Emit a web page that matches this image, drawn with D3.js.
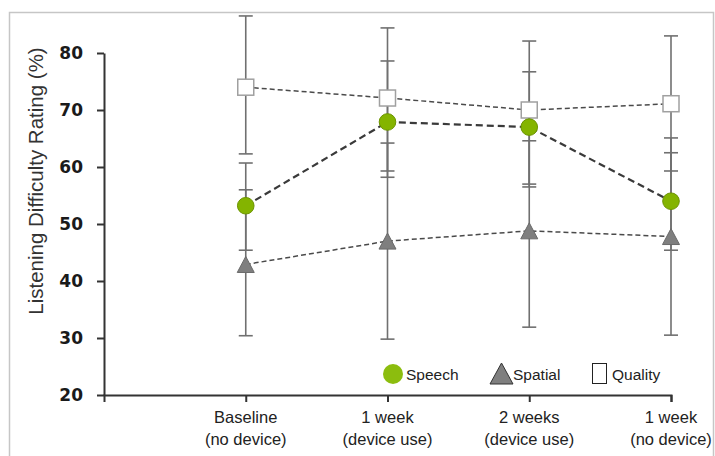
<!DOCTYPE html>
<html>
<head>
<meta charset="utf-8">
<script src="https://cdn.jsdelivr.net/npm/d3@7"></script>
<style>
  html, body { margin: 0; padding: 0; background: #fff; }
  svg { display: block; }
</style>
</head>
<body>
<svg id="chart" width="715" height="456"></svg>
<script>
// Test sessions along the x axis (two-line labels)
const sessions = [["Baseline", "(no device)"], ["1 week", "(device use)"], ["2 weeks", "(device use)"], ["1 week", "(no device)"]];
const yTicks = [20, 30, 40, 50, 60, 70, 80];

// Mean listening difficulty ratings (%) and error bar ends
const speech      = [53.2, 67.9, 67.0, 54.0];
const speechHigh  = [60.7, 78.6, 76.7, 62.5];
const speechLow   = [45.4, 58.2, 56.5, 45.4];

const spatial     = [42.9, 47.0, 48.8, 47.8];
const spatialHigh = [56.0, 64.2, 64.6, 65.1];
const spatialLow  = [30.4, 29.8, 31.9, 30.5];

const quality     = [74.0, 72.1, 70.0, 71.1];
const qualityHigh = [86.5, 84.4, 82.1, 83.0];
const qualityLow  = [62.3, 59.3, 57.0, 59.3];

const legendLabels = ["Speech", "Spatial", "Quality"];

const svg = d3.select("#chart");

// panel frame
svg.append("rect")
  .attr("x", 9.5).attr("y", 12.5).attr("width", 704).attr("height", 460)
  .attr("fill", "none").attr("stroke", "#c6c6c6").attr("stroke-width", 1.5);

const x = d3.scaleLinear().domain([0, 4]).range([104, 671]);
const y = d3.scaleLinear().domain([20, 80]).range([395, 53]);

// axes
const yAxis = svg.append("g").attr("transform", "translate(104,0)")
  .call(d3.axisLeft(y).tickValues(yTicks).tickSize(7).tickSizeOuter(0).tickPadding(14));
yAxis.select(".domain").attr("stroke", "#333").attr("stroke-width", 2);
yAxis.selectAll(".tick line").attr("stroke", "#333").attr("stroke-width", 2);
yAxis.selectAll(".tick text")
  .attr("font-family", "DejaVu Sans").attr("font-weight", "bold")
  .attr("font-size", 17).attr("fill", "#1a1a1a");

const xAxis = svg.append("g").attr("transform", "translate(0,395)")
  .call(d3.axisBottom(x).tickValues([1, 2, 3, 4]).tickSize(7).tickSizeOuter(7).tickFormat(""));
xAxis.select(".domain").attr("stroke", "#333").attr("stroke-width", 2);
xAxis.selectAll(".tick line").attr("stroke", "#333").attr("stroke-width", 2);

// category labels
sessions.forEach((lines, i) => {
  const t = svg.append("text")
    .attr("x", x(i + 1)).attr("y", 423)
    .attr("text-anchor", "middle")
    .attr("font-family", "Liberation Sans").attr("font-size", 16.5).attr("fill", "#222");
  t.append("tspan").attr("x", x(i + 1)).attr("dy", 0).text(lines[0]);
  t.append("tspan").attr("x", x(i + 1)).attr("y", 445).text(lines[1]);
});

// y axis title
svg.append("text")
  .attr("transform", "translate(43,181) rotate(-90)")
  .attr("text-anchor", "middle")
  .attr("font-family", "Liberation Sans").attr("font-size", 20.5).attr("fill", "#333")
  .text("Listening Difficulty Rating (%)");

// error bars
const errSets = [
  { hi: qualityHigh, lo: qualityLow },
  { hi: spatialHigh, lo: spatialLow },
  { hi: speechHigh, lo: speechLow }
];
const eb = svg.append("g").attr("stroke", "#707070").attr("stroke-width", 1.6);
errSets.forEach(s => {
  s.hi.forEach((h, i) => {
    const cx = x(i + 1);
    eb.append("line").attr("x1", cx).attr("x2", cx).attr("y1", y(h)).attr("y2", y(s.lo[i]));
    eb.append("line").attr("x1", cx - 7).attr("x2", cx + 7).attr("y1", y(h)).attr("y2", y(h));
    eb.append("line").attr("x1", cx - 7).attr("x2", cx + 7).attr("y1", y(s.lo[i])).attr("y2", y(s.lo[i]));
  });
});

// dashed connecting lines
const line = d3.line().x((d, i) => x(i + 1)).y(d => y(d));
svg.append("path").datum(quality).attr("d", line)
  .attr("fill", "none").attr("stroke", "#4a4a4a").attr("stroke-width", 1.5).attr("stroke-dasharray", "5,3");
svg.append("path").datum(spatial).attr("d", line)
  .attr("fill", "none").attr("stroke", "#4a4a4a").attr("stroke-width", 1.5).attr("stroke-dasharray", "5,3");
svg.append("path").datum(speech).attr("d", line)
  .attr("fill", "none").attr("stroke", "#3a3a3a").attr("stroke-width", 2.2).attr("stroke-dasharray", "7,4");

// markers
const triPath = (cx, cy, w, h) => `M${cx - w / 2},${cy + h / 2}L${cx + w / 2},${cy + h / 2}L${cx},${cy - h / 2}Z`;

svg.append("g").selectAll("rect").data(quality).join("rect")
  .attr("x", (d, i) => x(i + 1) - 8).attr("y", d => y(d) - 8)
  .attr("width", 16).attr("height", 16)
  .attr("fill", "#fff").attr("stroke", "#a0a0a0").attr("stroke-width", 1.5);

svg.append("g").selectAll("path").data(spatial).join("path")
  .attr("d", (d, i) => triPath(x(i + 1), y(d), 17, 16))
  .attr("fill", "#7f7f7f").attr("stroke", "#6a6a6a").attr("stroke-width", 1);

svg.append("g").selectAll("circle").data(speech).join("circle")
  .attr("cx", (d, i) => x(i + 1)).attr("cy", d => y(d)).attr("r", 8.3)
  .attr("fill", "#84b400").attr("stroke", "#6c9400").attr("stroke-width", 1);

// legend
const lg = svg.append("g").attr("font-family", "Liberation Sans").attr("font-size", 15.5).attr("fill", "#222");
lg.append("circle").attr("cx", 393).attr("cy", 374).attr("r", 10).attr("fill", "#8cbd0e");
lg.append("text").attr("x", 406).attr("y", 380).text(legendLabels[0]);
lg.append("path").attr("d", triPath(501.5, 373.5, 23, 21)).attr("fill", "#7f7f7f").attr("stroke", "#333").attr("stroke-width", 1);
lg.append("text").attr("x", 513).attr("y", 380).text(legendLabels[1]);
lg.append("rect").attr("x", 592.5).attr("y", 363.5).attr("width", 14).attr("height", 20)
  .attr("fill", "#fff").attr("stroke", "#222").attr("stroke-width", 1);
lg.append("text").attr("x", 612).attr("y", 380).text(legendLabels[2]);
</script>
</body>
</html>
